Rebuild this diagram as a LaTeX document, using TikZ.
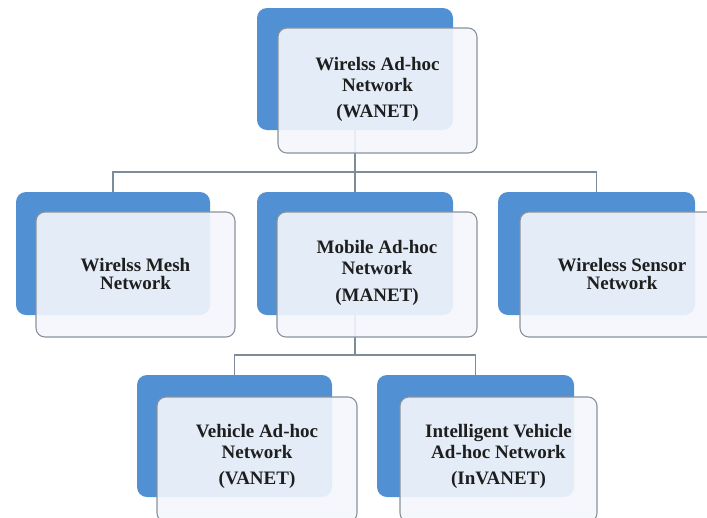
\documentclass[tikz,border=0pt]{standalone}
\usepackage{fontspec}
\setmainfont{Liberation Serif}
\definecolor{boxblue}{RGB}{80,144,211}
\definecolor{frontfill}{RGB}{244,247,252}
\definecolor{framegray}{RGB}{138,146,156}
\definecolor{linkgray}{RGB}{126,139,153}
\definecolor{textdark}{RGB}{30,30,30}
\begin{document}
\begin{tikzpicture}[x=1pt,y=-1pt,
  back/.style={fill=boxblue, rounded corners=10pt, inner sep=0pt, minimum width=196pt, minimum height=122pt},
  front/.style={draw=framegray, line width=1.1pt, fill=frontfill, fill opacity=0.9, rounded corners=9pt, inner sep=0pt, minimum width=199pt, minimum height=125pt},
  lbl/.style={font=\fontsize{19}{21}\selectfont\bfseries, align=center, text=textdark, inner sep=0pt},
  lbltwo/.style={lbl, font=\fontsize{19}{18}\selectfont\bfseries},
  link/.style={draw=linkgray, line width=1.3pt}]
\clip (0,0) rectangle (707,517);
\fill[white] (0,0) rectangle (707,517);
% back (blue) boxes
\node[back] (wanetB) at (355,69) {};
\node[back, minimum width=194pt, minimum height=123pt] (wmnB) at (113,253.5) {};
\node[back, minimum height=123pt] (manetB) at (355,253.5) {};
\node[back, minimum width=197pt, minimum height=123pt] (wsnB) at (596.5,253.5) {};
\node[back, minimum width=195pt] (vanetB) at (234.5,436) {};
\node[back, minimum width=197pt] (invanetB) at (475.5,436) {};
% connectors
\coordinate (lvla) at (0,172);
\coordinate (lvlb) at (0,355);
\draw[link] (wanetB.south) -- (wanetB.south |- lvla) -| (wmnB.north);
\draw[link] (wanetB.south |- lvla) -| (wsnB.north);
\draw[link] (wanetB.south) -- (manetB.north);
\draw[link] (manetB.south) -- (manetB.south |- lvlb) -| (vanetB.north);
\draw[link] (manetB.south |- lvlb) -| (invanetB.north);
% front boxes
\node[front] (wanetF) at (377.5,90.5) {};
\node[front] (wmnF) at (135.5,274.5) {};
\node[front, minimum width=200pt] (manetF) at (377,274.5) {};
\node[front] (wsnF) at (619.5,274.5) {};
\node[front, minimum width=200pt] (vanetF) at (257,459.5) {};
\node[front, minimum width=197pt] (invanetF) at (498.5,459.5) {};
% labels
\node[lbl] (wanetT) at (377.5,89) {Wirelss Ad-hoc\\Network\\[5pt](WANET)};
\node[lbltwo] (wmnT) at (135.5,274) {Wirelss Mesh\\Network};
\node[lbl] (manetT) at (377,273) {Mobile Ad-hoc\\Network\\[6pt](MANET)};
\node[lbltwo] (wsnT) at (622,274) {Wireless Sensor\\Network};
\node[lbl] (vanetT) at (257,456) {Vehicle Ad-hoc\\Network\\[5pt](VANET)};
\node[lbl] (invanetT) at (498.5,456) {Intelligent Vehicle\\Ad-hoc Network\\[5pt](InVANET)};
\end{tikzpicture}
\end{document}
